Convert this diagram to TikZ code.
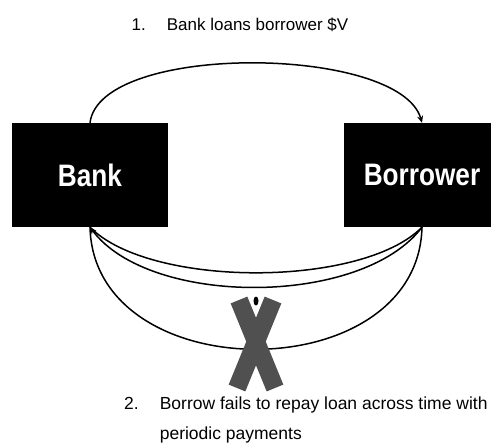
\documentclass[tikz,border=0pt]{standalone}
\usepackage{fontspec}
\setmainfont{Liberation Sans}
\usetikzlibrary{arrows.meta}
\definecolor{crosscol}{RGB}{80,80,80}

\begin{document}
\begin{tikzpicture}[x=1pt, y=-1pt,
    party/.style={fill=black, text=white, minimum width=156pt, minimum height=104pt,
        inner sep=0pt, font=\bfseries\fontsize{27}{30}\selectfont},
    flow/.style={line width=1.5pt, -{Stealth[length=7pt,width=6pt]}},
    loop/.style={line width=1.5pt}]

    \clip (0,0) rectangle (491,447);

    % The two parties
    \node[party] (bank) at (90,175) {\scalebox{0.97}[1.15]{Bank}};
    \node[party] (borrower) at (422,175) {\scalebox{0.97}[1.15]{Borrower}};

    % Step 1: the loan
    \node (loan) at (240,25) {\fontsize{17}{20}\selectfont 1.\hspace{21pt}Bank loans borrower \$V};
    \draw[flow] (bank.north) .. controls (100,42) and (400,45) .. (borrower.north);

    % Step 2: repayments that never come back
    \draw[loop] (borrower.south) .. controls (362,288) and (150,288) .. (bank.south);
    \draw[flow] (borrower.south) .. controls (362,307) and (150,307) .. (bank.south);
    \draw[loop] (borrower.south) .. controls (418,390) and (94,390) .. (bank.south);

    % Cross over the payments
    \draw[crosscol, line width=18pt] (239,300) -- (275,388);
    \draw[crosscol, line width=18pt] (273,300) -- (237,388);
    \fill (256,301) ellipse (2.5pt and 4.5pt);

    \node[anchor=north west, inner sep=0pt] (fail) at (124,388)
        {\fontsize{17.5}{30}\selectfont
         \begin{tabular}{@{}l@{\hspace{21pt}}l@{}}
         2. & Borrow fails to repay loan across time with\\
            & periodic payments
         \end{tabular}};

\end{tikzpicture}
\end{document}
